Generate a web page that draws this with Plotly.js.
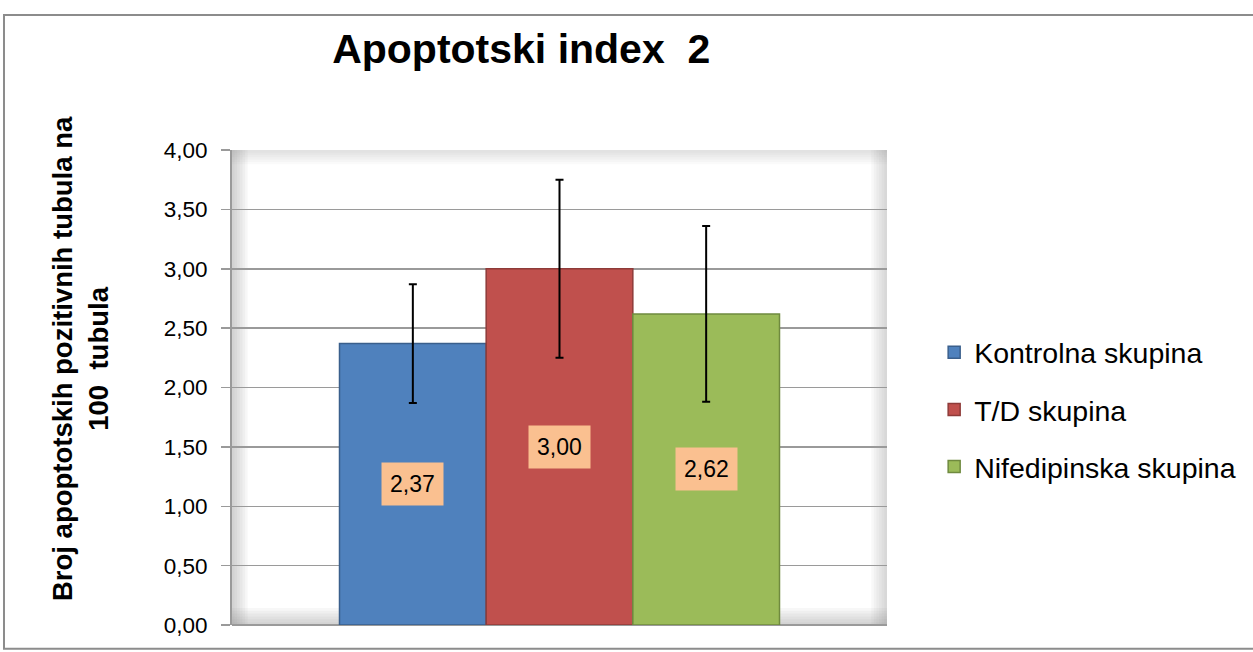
<!DOCTYPE html>
<html>
<head>
<meta charset="utf-8">
<script src="https://cdn.plot.ly/plotly-3.0.1.min.js"></script>
<style>html,body{margin:0;padding:0;background:#fff;}#chart{width:1253px;height:652px;}</style>
</head>
<body>
<div id="chart"></div>
<script>
const groups = ["Kontrolna skupina", "T/D skupina", "Nifedipinska skupina"];
const values = [2.37, 3.00, 2.62];
const errors = [0.50, 0.75, 0.74];
const labels = ["2,37", "3,00", "2,62"];
const colors = ["#4F81BD", "#C0504D", "#9BBB59"];
const edgeColors = ["#3A5F8C", "#8E3B39", "#6F8A3F"];
const yTicks = [0, 0.5, 1, 1.5, 2, 2.5, 3, 3.5, 4];
const yTickText = ["0,00", "0,50", "1,00", "1,50", "2,00", "2,50", "3,00", "3,50", "4,00"];

const FONT = "Liberation Sans, Arial, sans-serif";

const traces = groups.map((g, i) => ({
  type: "bar",
  name: g,
  x: [i - 1],
  y: [values[i]],
  width: [1],
  marker: {color: colors[i], line: {color: edgeColors[i], width: 1.5}},
  error_y: {type: "data", array: [errors[i]], visible: true, color: "#000", thickness: 2, width: 4},
  legendgroup: "g" + i,
  hoverinfo: "skip"
}));

const annotations = groups.map((g, i) => ({
  x: i - 1, y: values[i] / 2, xref: "x", yref: "y",
  text: labels[i], showarrow: false,
  font: {family: FONT, size: 23, color: "#000"},
  bgcolor: "#FAC090", borderpad: 8
}));

annotations.push({
  xref: "paper", yref: "paper", x: -0.232, y: 0.56, xanchor: "center", yanchor: "middle",
  text: "<b>Broj apoptotskih pozitivnih tubula na<br>100  tubula</b>",
  textangle: -90, showarrow: false,
  font: {family: FONT, size: 27.5, color: "#000"}
});

const shapes = [
  {type: "rect", xref: "paper", yref: "paper", x0: -0.3481, x1: 1.58, y0: -0.05, y1: 1.2842,
   line: {color: "#8C8C8C", width: 2}, fillcolor: "rgba(0,0,0,0)", layer: "below"}
];
// soft shading at plot edges
for (let k = 0; k < 6; k++) {
  shapes.push({type: "rect", xref: "paper", yref: "paper", x0: 0, x1: 0.004 * (k + 1), y0: 0, y1: 1,
    line: {width: 0}, fillcolor: "rgba(120,120,120,0.06)", layer: "below"});
  shapes.push({type: "rect", xref: "paper", yref: "paper", x0: 1 - 0.004 * (k + 1), x1: 1, y0: 0, y1: 1,
    line: {width: 0}, fillcolor: "rgba(120,120,120,0.05)", layer: "below"});
  shapes.push({type: "rect", xref: "paper", yref: "paper", x0: 0, x1: 1, y0: 0, y1: 0.006 * (k + 1),
    line: {width: 0}, fillcolor: "rgba(120,120,120,0.06)", layer: "below"});
  shapes.push({type: "rect", xref: "paper", yref: "paper", x0: 0, x1: 1, y0: 1 - 0.005 * (k + 1), y1: 1,
    line: {width: 0}, fillcolor: "rgba(120,120,120,0.04)", layer: "below"});
}

const layout = {
  width: 1253, height: 652,
  margin: {l: 232, r: 366, t: 150, b: 27, pad: 0, autoexpand: false},
  paper_bgcolor: "#fff", plot_bgcolor: "#fff",
  title: {text: "<b>Apoptotski index  2</b>", font: {family: FONT, size: 41, color: "#000"},
          x: 0.416, xanchor: "center", y: 0.925, yanchor: "middle"},
  barmode: "overlay",
  xaxis: {type: "linear", range: [-2.233, 2.233], showticklabels: false, showgrid: false,
          zeroline: false, showline: false, ticks: "", fixedrange: true},
  yaxis: {range: [0, 4], tickvals: yTicks, ticktext: yTickText, showgrid: true,
          gridcolor: "#9A9A9A", gridwidth: 1.5, zeroline: true, zerolinecolor: "#9A9A9A", zerolinewidth: 1.5,
          showline: true, linecolor: "#9A9A9A", linewidth: 2, ticks: "outside", ticklen: 9,
          tickcolor: "#9A9A9A", tickwidth: 1.5, ticklabelstandoff: 9,
          tickfont: {family: FONT, size: 22.5, color: "#000"}, fixedrange: true},
  showlegend: true,
  legend: {x: 1.072, xanchor: "left", y: 0.453, yanchor: "middle", font: {family: FONT, size: 28.5, color: "#000"},
           traceorder: "grouped", tracegroupgap: 17, itemwidth: 30, bgcolor: "rgba(0,0,0,0)"},
  annotations: annotations,
  shapes: shapes
};

Plotly.newPlot("chart", traces, layout, {displayModeBar: false, staticPlot: true});
</script>
</body>
</html>
